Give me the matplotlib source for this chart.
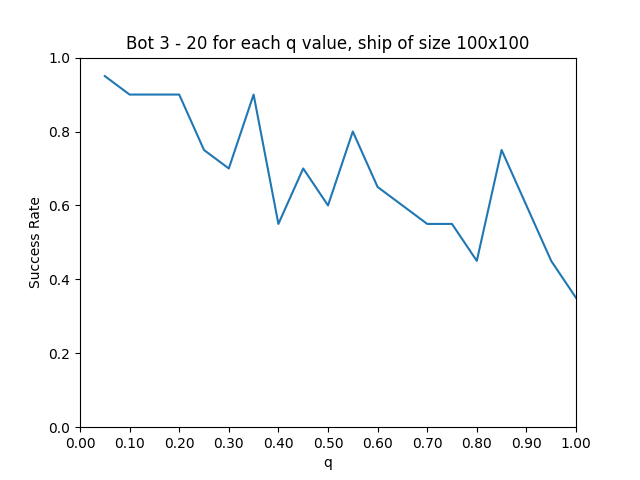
import numpy as np
import matplotlib
matplotlib.use('Agg')
import matplotlib.pyplot as plt

q_values = [0.05, 0.10, 0.15, 0.20, 0.25, 0.30, 0.35, 0.40, 0.45, 0.50,
            0.55, 0.60, 0.65, 0.70, 0.75, 0.80, 0.85, 0.90, 0.95, 1.00]
success = [0.95, 0.90, 0.90, 0.90, 0.75, 0.70, 0.90, 0.55, 0.70, 0.60,
           0.80, 0.65, 0.60, 0.55, 0.55, 0.45, 0.75, 0.60, 0.45, 0.35]
x_ticks = [0.0, 0.1, 0.2, 0.3, 0.4, 0.5, 0.6, 0.7, 0.8, 0.9, 1.0]

fig, ax = plt.subplots(figsize=(6.4, 4.8), dpi=100)
ax.plot(q_values, success)
ax.set_xlim(0, 1)
ax.set_ylim(0, 1)
ax.set_xticks(x_ticks)
ax.set_xticklabels(['%.2f' % t for t in x_ticks])
ax.set_xlabel('q')
ax.set_ylabel('Success Rate')
ax.set_title('Bot 3 - 20 for each q value, ship of size 100x100')
plt.savefig('out.png')
